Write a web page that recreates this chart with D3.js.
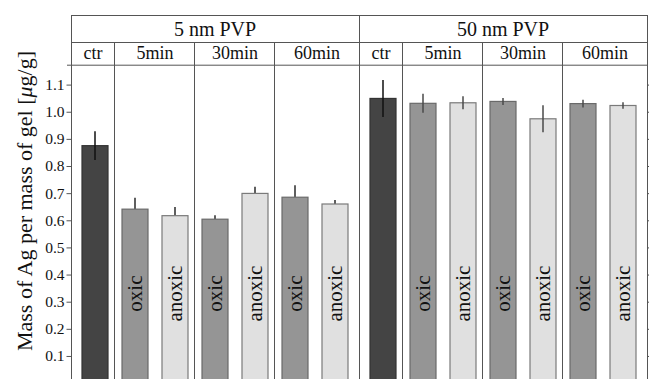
<!DOCTYPE html>
<html>
<head>
<meta charset="utf-8">
<script src="https://cdn.jsdelivr.net/npm/d3@7"></script>
<style>
  body { margin: 0; background: #fff; }
  text { font-family: "Liberation Serif", "DejaVu Serif", serif; fill: #111; }
</style>
</head>
<body>
<div id="chart"></div>
<script>
// chart data
var sections = ['5 nm PVP', '50 nm PVP'];
var groups = ['ctr', '5min', '30min', '60min'];
var barKeys = ['ctr', '5min oxic', '5min anoxic', '30min oxic', '30min anoxic', '60min oxic', '60min anoxic'];
var conditions = ['', 'oxic', 'anoxic', 'oxic', 'anoxic', 'oxic', 'anoxic'];
var values5 = [0.875, 0.641, 0.617, 0.604, 0.699, 0.685, 0.660];
var errors5 = [0.053, 0.042, 0.032, 0.015, 0.025, 0.044, 0.015];
var values50 = [1.049, 1.031, 1.033, 1.038, 0.974, 1.030, 1.023];
var errors50 = [0.068, 0.035, 0.024, 0.013, 0.050, 0.014, 0.012];
var yTicks = [0.1, 0.2, 0.3, 0.4, 0.5, 0.6, 0.7, 0.8, 0.9, 1.0, 1.1];

var width = 649, height = 379;
var top1 = 15, top2 = 42, top3 = 64.7;
var left = 71, right = 647;

var svg = d3.select('#chart')
  .append('svg')
    .attr('width', width)
    .attr('height', height);

var y = d3.scaleLinear().domain([0, 1.1]).range([383.1, 84.6]);
var xSection = d3.scaleBand().domain(sections).range([left, right]);
var xBar = d3.scaleBand().domain(barKeys).range([4, 284])
  .paddingInner(0.325).paddingOuter(0.1625);

var fills = { ctr: '#444444', oxic: '#959595', anoxic: '#e0e0e0' };
var strokes = { ctr: '#333333', oxic: '#6a6a6a', anoxic: '#7a7a7a' };

// group boundaries inside one section (midpoints between bars)
function mid(a, b) {
  return (xBar(barKeys[a]) + xBar.bandwidth() + xBar(barKeys[b])) / 2;
}
var bounds = [0, mid(0, 1), mid(2, 3), mid(4, 5), xSection.bandwidth()];

var rows = [];
sections.forEach(function(s, si) {
  var vals = si == 0 ? values5 : values50;
  var errs = si == 0 ? errors5 : errors50;
  barKeys.forEach(function(k, i) {
    rows.push({ section: s, si: si, key: k, i: i, cond: conditions[i], value: vals[i], err: errs[i] });
  });
});

var lineColor = '#555';

// frame lines
var frame = svg.append('g').attr('stroke', lineColor).attr('stroke-width', 1).attr('fill', 'none');
frame.append('line').attr('x1', left).attr('x2', right).attr('y1', top1 + 0.5).attr('y2', top1 + 0.5);
frame.append('line').attr('x1', left).attr('x2', right).attr('y1', top2 + 0.5).attr('y2', top2 + 0.5);
frame.append('line').attr('x1', left - 4).attr('x2', right).attr('y1', top3 + 0.5).attr('y2', top3 + 0.5);
[left, xSection(sections[1]), right].forEach(function(x) {
  frame.append('line').attr('x1', Math.round(x) + 0.5).attr('x2', Math.round(x) + 0.5)
    .attr('y1', top1).attr('y2', height);
});
sections.forEach(function(s) {
  bounds.slice(1, 4).forEach(function(b) {
    var x = Math.round(xSection(s) + b) - 0.5;
    frame.append('line').attr('x1', x).attr('x2', x).attr('y1', top2).attr('y2', height);
  });
});

// header text
svg.selectAll('.sec-label')
  .data(sections)
  .enter().append('text')
    .attr('x', function(d) { return xSection(d) + xSection.bandwidth() / 2; })
    .attr('y', 36)
    .attr('text-anchor', 'middle')
    .style('font-size', '20px')
    .text(function(d) { return d; });

sections.forEach(function(s) {
  svg.selectAll(null)
    .data(groups)
    .enter().append('text')
      .attr('x', function(d, i) { return xSection(s) + (bounds[i] + bounds[i + 1]) / 2; })
      .attr('y', 59)
      .attr('text-anchor', 'middle')
      .style('font-size', '18px')
      .text(function(d) { return d; });
});

// y axis ticks
var yAxis = svg.append('g')
  .attr('transform', 'translate(' + (left + 0.5) + ',0)')
  .call(d3.axisLeft(y).tickValues(yTicks).tickSize(5).tickFormat(d3.format('.1f')));
yAxis.select('.domain').remove();
yAxis.selectAll('.tick line').attr('stroke', lineColor);
yAxis.selectAll('.tick text')
  .style('font-size', '15.5px')
  .style('font-family', '"Liberation Serif", serif')
  .attr('fill', '#111')
  .attr('x', -7);

var yAxisR = svg.append('g')
  .attr('transform', 'translate(' + (right + 0.5) + ',0)')
  .call(d3.axisRight(y).tickValues(yTicks).tickSize(3).tickFormat(''));
yAxisR.select('.domain').remove();
yAxisR.selectAll('.tick line').attr('stroke', lineColor);

function barX(d) { return xSection(d.section) + xBar(d.key); }
function barC(d) { return barX(d) + xBar.bandwidth() / 2; }
function kind(d) { return d.cond == '' ? 'ctr' : d.cond; }
// on the 5 nm treatment bars only the upper whisker shows
function hidden(d) { return d.si == 0 && d.cond != ''; }

// whiskers behind bars
svg.selectAll('.err-back')
  .data(rows.filter(hidden))
  .enter().append('line')
    .attr('x1', barC).attr('x2', barC)
    .attr('y1', function(d) { return y(d.value + d.err); })
    .attr('y2', function(d) { return y(d.value); })
    .attr('stroke', '#2a2a2a')
    .attr('stroke-width', 1.5);

svg.selectAll('.bar')
  .data(rows)
  .enter().append('rect')
    .attr('x', function(d) { return barX(d) + 0.5; })
    .attr('y', function(d) { return y(d.value); })
    .attr('width', xBar.bandwidth() - 1)
    .attr('height', function(d) { return y(0) - y(d.value); })
    .attr('fill', function(d) { return fills[kind(d)]; })
    .attr('stroke', function(d) { return strokes[kind(d)]; })
    .attr('stroke-width', 1.2);

svg.selectAll('.err-front')
  .data(rows.filter(function(d) { return !hidden(d); }))
  .enter().append('line')
    .attr('x1', barC).attr('x2', barC)
    .attr('y1', function(d) { return y(d.value + d.err); })
    .attr('y2', function(d) { return y(d.value - d.err); })
    .attr('stroke', function(d) { return d.cond == '' ? '#111' : '#4a4a4a'; })
    .attr('stroke-width', 1.5);

// condition labels inside bars
svg.selectAll('.cond')
  .data(rows.filter(function(d) { return d.cond != ''; }))
  .enter().append('text')
    .attr('transform', function(d) { return 'translate(' + barC(d) + ',' + y(0.33) + ') rotate(-90)'; })
    .attr('text-anchor', 'middle')
    .attr('dy', '0.35em')
    .style('font-size', '21px')
    .text(function(d) { return d.cond; });

// y axis title
var title = svg.append('text')
  .attr('transform', 'translate(24,201) rotate(-90)')
  .attr('text-anchor', 'middle')
  .attr('dy', '0.35em')
  .style('font-size', '22px');
title.append('tspan').text('Mass of Ag per mass of gel [');
title.append('tspan').style('font-style', 'italic').text('\u03bc');
title.append('tspan').text('g/g]');
</script>
</body>
</html>
